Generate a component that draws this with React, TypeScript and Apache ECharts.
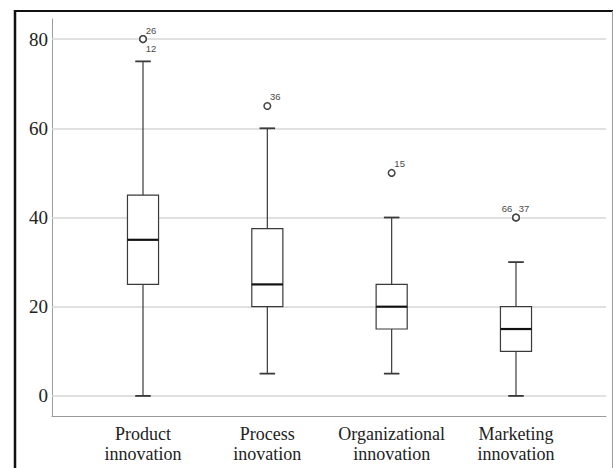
import React, { useEffect, useRef } from "react";
import * as echarts from "echarts";

const categories = [
  "Product\ninnovation",
  "Process\ninovation",
  "Organizational\ninnovation",
  "Marketing\ninnovation",
];
const mins = [0, 5, 5, 0];
const q1s = [25, 20, 15, 10];
const medians = [35, 25, 20, 15];
const q3s = [45, 37.5, 25, 20];
const maxs = [75, 60, 40, 30];

const outlierCategory = [0, 0, 1, 2, 3, 3];
const outlierValues = [80, 80, 65, 50, 40, 40];
const outlierLabels = ["26", "12", "36", "15", "66", "37"];
const outlierLabelSide = ["ur", "lr", "ur", "ur", "ul", "ur"];

const yTicks = [0, 20, 40, 60, 80];

export default function App() {
  const ref = useRef<HTMLDivElement>(null);
  useEffect(() => {
    if (!ref.current) return;
    const chart = echarts.init(ref.current, null, { renderer: "svg" });
    const boxData = categories.map((_, i) => [i, mins[i], q1s[i], medians[i], q3s[i], maxs[i]]);
    const outData = outlierValues.map((v, i) => [outlierCategory[i], v, i]);
    const stroke = "#3a3a3a";
    chart.setOption({
      animation: false,
      backgroundColor: "#ffffff",
      grid: { left: 52, right: 8, top: 19, bottom: 52, containLabel: false },
      xAxis: {
        type: "value",
        min: -0.732,
        max: 3.724,
        splitLine: { show: false },
        axisTick: { show: false },
        axisLine: { show: true, onZero: false, lineStyle: { color: "#9a9a9a", width: 1 } },
        axisLabel: {
          customValues: [0, 1, 2, 3],
          formatter: (v: number) => categories[Math.round(v)] ?? "",
          fontFamily: "Liberation Serif",
          fontSize: 18,
          lineHeight: 20,
          color: "#222",
          margin: 8,
          showMinLabel: true,
          showMaxLabel: true,
        },
      },
      yAxis: {
        type: "value",
        min: -4.5,
        max: 84.5,
        splitLine: { show: false },
        axisTick: { show: false },
        axisLine: { show: true, onZero: false, lineStyle: { color: "#9a9a9a", width: 1 } },
        axisLabel: {
          customValues: yTicks,
          fontFamily: "Liberation Serif",
          fontSize: 19,
          color: "#222",
          margin: 4,
        },
      },
      graphic: [
        { type: "line", shape: { x1: 14, y1: 11, x2: 613, y2: 11 }, style: { stroke: "#111", lineWidth: 2 }, z: 100 },
        { type: "line", shape: { x1: 15, y1: 10, x2: 15, y2: 468 }, style: { stroke: "#111", lineWidth: 2.5 }, z: 100 },
        { type: "line", shape: { x1: 612.5, y1: 11, x2: 612.5, y2: 468 }, style: { stroke: "#9a9a9a", lineWidth: 1 }, z: 100 },
      ],
      series: [
        {
          type: "line",
          data: [],
          z: 1,
          markLine: {
            silent: true,
            symbol: ["none", "none"],
            label: { show: false },
            lineStyle: { color: "#d6d6d6", width: 1.5, type: "solid" },
            data: yTicks.map((v) => ({ yAxis: v })),
          },
        },
        {
          type: "custom",
          z: 5,
          data: boxData,
          encode: { x: 0, y: [1, 2, 3, 4, 5] },
          renderItem: (params: any, api: any) => {
            const i = api.value(0);
            const w = api.size([0.25, 0])[0];
            const cx = api.coord([i, 0])[0];
            const yMin = api.coord([i, api.value(1)])[1];
            const yQ1 = api.coord([i, api.value(2)])[1];
            const yMed = api.coord([i, api.value(3)])[1];
            const yQ3 = api.coord([i, api.value(4)])[1];
            const yMax = api.coord([i, api.value(5)])[1];
            const cap = w / 2;
            const ls = { stroke, lineWidth: 1.2 };
            return {
              type: "group",
              children: [
                { type: "line", shape: { x1: cx, y1: yMax, x2: cx, y2: yQ3 }, style: ls },
                { type: "line", shape: { x1: cx, y1: yQ1, x2: cx, y2: yMin }, style: ls },
                { type: "line", shape: { x1: cx - cap / 2, y1: yMax, x2: cx + cap / 2, y2: yMax }, style: { stroke, lineWidth: 1.8 } },
                { type: "line", shape: { x1: cx - cap / 2, y1: yMin, x2: cx + cap / 2, y2: yMin }, style: { stroke, lineWidth: 1.8 } },
                {
                  type: "rect",
                  shape: { x: cx - w / 2, y: yQ3, width: w, height: yQ1 - yQ3 },
                  style: { fill: "#ffffff", stroke, lineWidth: 1.2 },
                },
                { type: "line", shape: { x1: cx - w / 2, y1: yMed, x2: cx + w / 2, y2: yMed }, style: { stroke: "#111", lineWidth: 2.2 } },
              ],
            };
          },
        },
        {
          type: "custom",
          z: 6,
          data: outData,
          encode: { x: 0, y: 1 },
          renderItem: (params: any, api: any) => {
            const idx = api.value(2);
            const p = api.coord([api.value(0), api.value(1)]);
            const side = outlierLabelSide[idx];
            const dx = side === "ul" ? -9 : 8;
            const dy = side === "lr" ? 9 : -9;
            return {
              type: "group",
              children: [
                {
                  type: "circle",
                  shape: { cx: p[0], cy: p[1], r: 3.3 },
                  style: { fill: "#ffffff", stroke: "#444", lineWidth: 1.5 },
                },
                {
                  type: "text",
                  style: {
                    text: outlierLabels[idx],
                    x: p[0] + dx,
                    y: p[1] + dy,
                    fill: "#4a4a4a",
                    fontSize: 9.5,
                    fontFamily: "Liberation Sans",
                    align: "center",
                    verticalAlign: "middle",
                  },
                },
              ],
            };
          },
        },
      ],
    });
    return () => chart.dispose();
  }, []);
  return (
    <div
      ref={ref}
      style={{ position: "fixed", left: 0, top: 0, width: 614, height: 468, background: "#fff" }}
    />
  );
}
